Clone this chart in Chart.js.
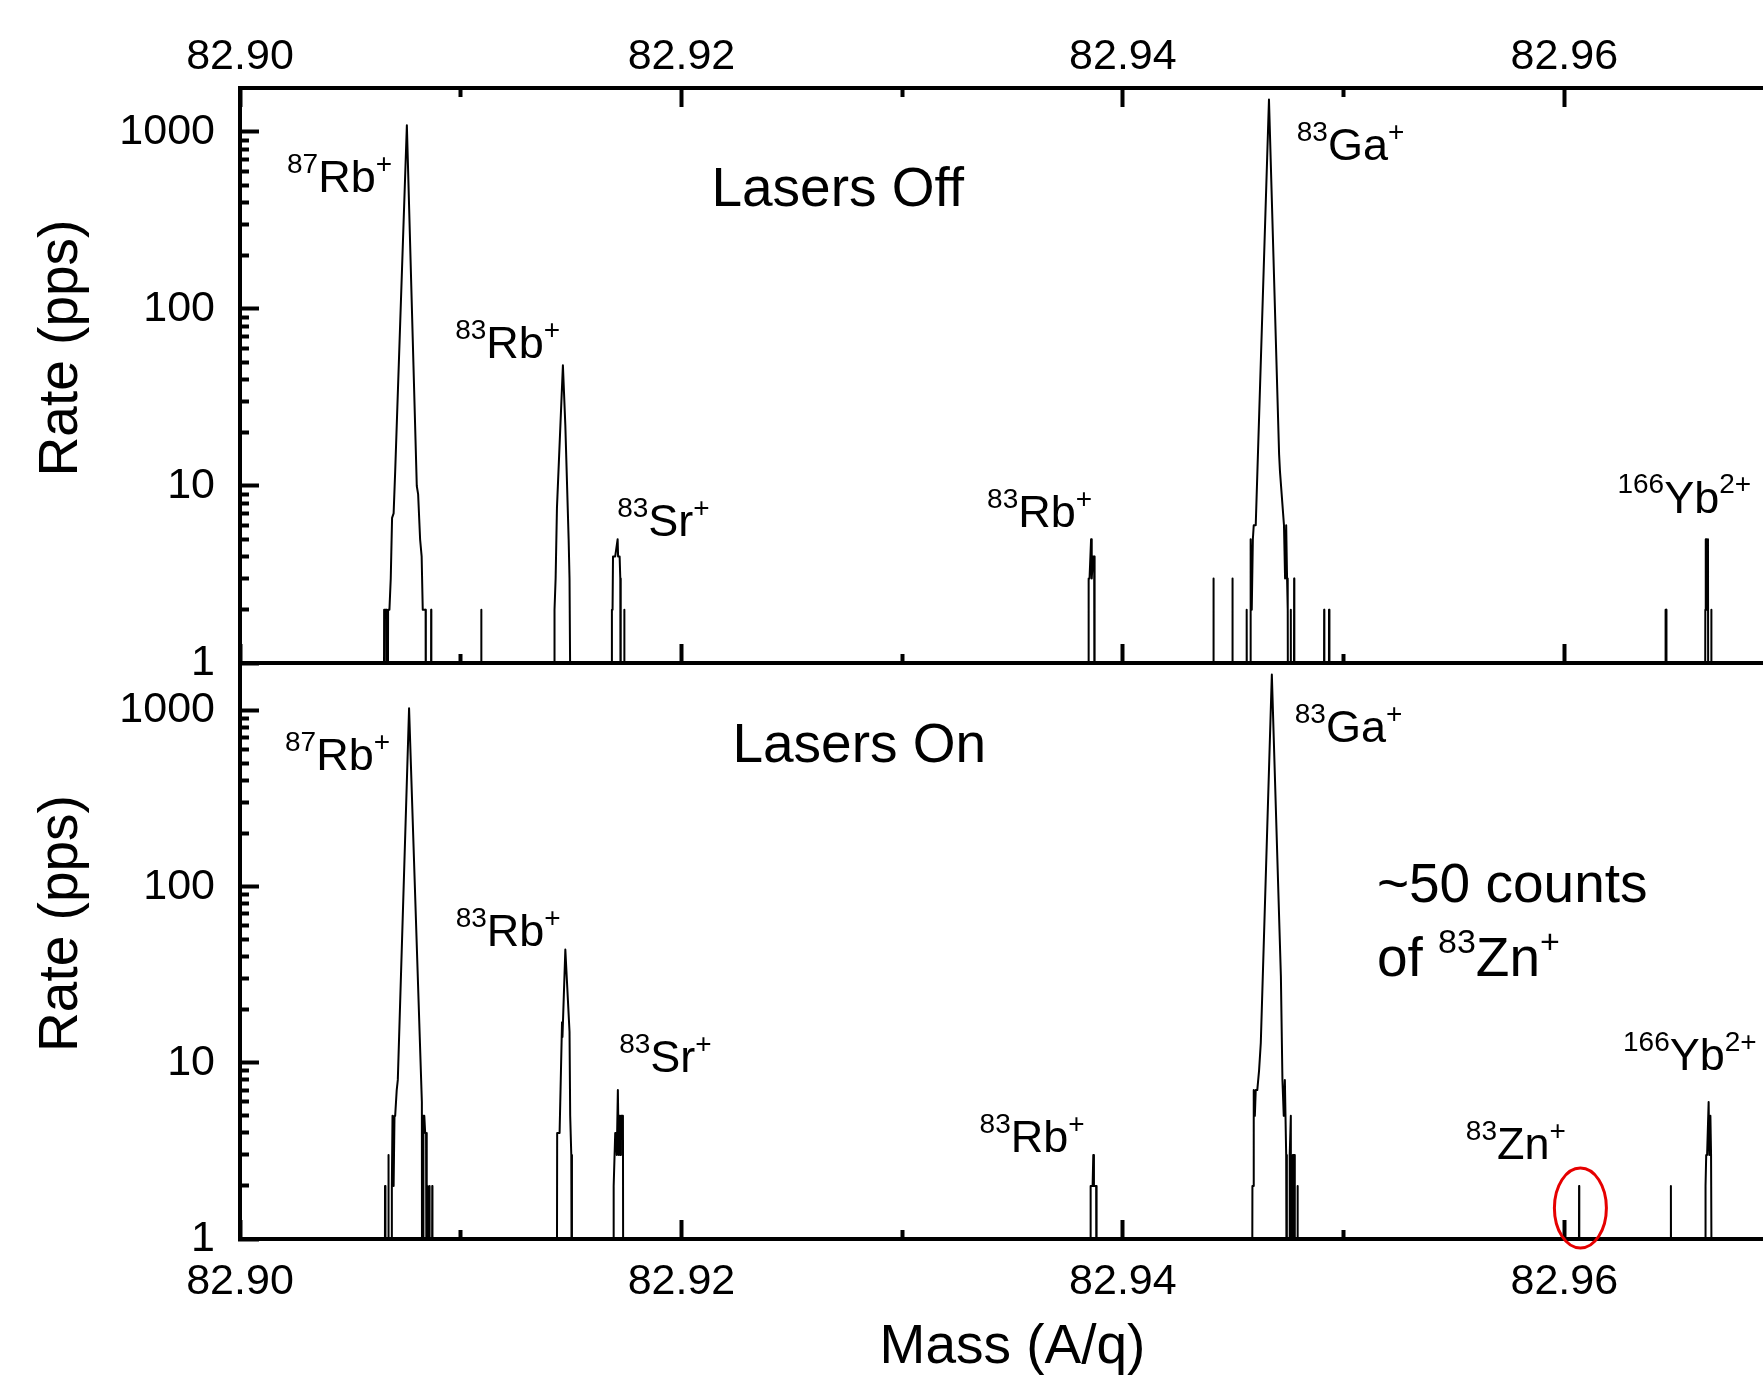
<!DOCTYPE html>
<html>
<head>
<meta charset="utf-8">
<title>Lasers off / on mass spectrum</title>
<script src="https://cdn.jsdelivr.net/npm/chart.js@4.4.1/dist/chart.umd.min.js"></script>
<style>
  html, body { margin: 0; padding: 0; background: #fff; overflow: hidden; }
  #wrap { position: relative; width: 1785px; height: 1378px; }
  #wrap canvas { position: absolute; left: 0; top: 0; }
</style>
</head>
<body>
<div id="wrap">
  <canvas id="offChart" width="1785" height="1378"></canvas>
  <canvas id="onChart" width="1785" height="1378"></canvas>
</div>
<script>
// ---- data (rate 0.1 = empty bin, falls below the axis) ----
const offMass = [
  82.90000,
  82.90651, 82.90653, 82.90662, 82.90664, 82.90669, 82.90671, 82.90677, 82.90683, 82.90689, 82.90696,
  82.90703, 82.90756, 82.90801, 82.90807, 82.90816, 82.90823, 82.90828, 82.90841, 82.90842,
  82.90865, 82.90866, 82.90867,
  82.91092, 82.91093, 82.91094,
  82.91424, 82.91425, 82.91430, 82.91436, 82.91463, 82.91474, 82.91489, 82.91493, 82.91501,
  82.91684, 82.91685, 82.91688, 82.91690, 82.91700, 82.91711, 82.91713, 82.91720, 82.91723, 82.91725,
  82.91740, 82.91741, 82.91742,
  82.93843, 82.93845, 82.93849, 82.93856, 82.93859, 82.93865, 82.93870, 82.93872,
  82.94409, 82.94410, 82.94412,
  82.94495, 82.94496, 82.94498,
  82.94560, 82.94561, 82.94563,
  82.94577, 82.94579, 82.94584, 82.94589, 82.94593, 82.94602, 82.94662, 82.94708, 82.94712, 82.94730,
  82.94735, 82.94740, 82.94744, 82.94747, 82.94749,
  82.94759, 82.94761, 82.94762,
  82.94774, 82.94776, 82.94777,
  82.94910, 82.94912, 82.94913,
  82.94933, 82.94934, 82.94936,
  82.96457, 82.96459, 82.96462, 82.96463,
  82.96637, 82.96639, 82.96641, 82.96645, 82.96647, 82.96651, 82.96653,
  82.96665, 82.96666, 82.96667,
  82.97000
];
const offRate = [
  0.1,
  0.1, 2, 2, 0.1, 0.1, 2, 2, 3, 6.6, 7,
  12, 1090, 10, 9, 5, 4, 2, 2, 0.1,
  0.1, 2, 0.1,
  0.1, 2, 0.1,
  0.1, 2, 3, 7.5, 48, 22, 5, 3, 0.1,
  0.1, 2, 2, 4, 4, 5, 4, 4, 3, 0.1,
  0.1, 2, 0.1,
  0.1, 3, 3, 5, 3, 4, 4, 0.1,
  0.1, 3, 0.1,
  0.1, 3, 0.1,
  0.1, 2, 0.1,
  0.1, 5, 2, 5, 6, 6, 1525, 15, 12, 6,
  3, 6, 3, 2, 0.1,
  0.1, 2, 0.1,
  0.1, 3, 0.1,
  0.1, 2, 0.1,
  0.1, 2, 0.1,
  0.1, 2, 2, 0.1,
  0.1, 2, 5, 5, 2, 5, 0.1,
  0.1, 2, 0.1,
  0.1
];

const onMass = [
  82.90000,
  82.90656, 82.90657, 82.90659,
  82.90671, 82.90672, 82.90674,
  82.90686, 82.90688, 82.90691, 82.90696, 82.90700, 82.90703, 82.90710, 82.90715, 82.90766, 82.90824, 82.90825,
  82.90830, 82.90831, 82.90835, 82.90839, 82.90843, 82.90846,
  82.90848, 82.90849, 82.90851,
  82.90857, 82.90858, 82.90860,
  82.90869, 82.90871, 82.90872,
  82.91435, 82.91437, 82.91448, 82.91459, 82.91461, 82.91474, 82.91493, 82.91496, 82.91501, 82.91504,
  82.91691, 82.91693, 82.91700, 82.91705, 82.91707, 82.91712, 82.91716, 82.91720, 82.91723, 82.91726, 82.91735, 82.91737,
  82.93852, 82.93854, 82.93863, 82.93866, 82.93869, 82.93879, 82.93881,
  82.94585, 82.94587, 82.94591, 82.94593, 82.94598, 82.94602, 82.94609, 82.94617, 82.94625, 82.94675,
  82.94716, 82.94723, 82.94729, 82.94734, 82.94740, 82.94743,
  82.94754, 82.94756, 82.94761, 82.94763,
  82.94768, 82.94770, 82.94777, 82.94779,
  82.94789, 82.94791, 82.94793,
  82.96065, 82.96067, 82.96068,
  82.96482, 82.96483, 82.96485,
  82.96638, 82.96640, 82.96643, 82.96647, 82.96654, 82.96657, 82.96662, 82.96665, 82.96670,
  82.97000
];
const onRate = [
  0.1,
  0.1, 2, 0.1,
  0.1, 3, 0.1,
  0.1, 2, 5, 2, 5, 5, 7, 8, 1030, 6, 0.1,
  0.1, 5, 5, 4, 4, 0.1,
  0.1, 2, 0.1,
  0.1, 2, 0.1,
  0.1, 2, 0.1,
  0.1, 4, 4, 17, 14, 44, 15, 5, 3, 0.1,
  0.1, 2, 4, 4, 3, 7, 3, 5, 3, 5, 5, 0.1,
  0.1, 2, 2, 3, 2, 2, 0.1,
  0.1, 2, 2, 7, 5, 7, 7, 9, 13, 1600,
  31, 8, 5, 8, 3, 0.1,
  0.1, 3, 5, 0.1,
  0.1, 3, 3, 0.1,
  0.1, 2, 0.1,
  0.1, 2, 0.1,
  0.1, 2, 0.1,
  0.1, 2, 3, 3, 6, 3, 5, 3, 0.1,
  0.1
];

const xMajorTicks = [82.90, 82.92, 82.94, 82.96];
const xMinorTicks = [82.91, 82.93, 82.95];
const yMajorTicks = [1, 10, 100, 1000];
const yMinorTicks = [2, 3, 4, 5, 6, 7, 8, 9, 20, 30, 40, 50, 60, 70, 80, 90, 200, 300, 400, 500, 600, 700, 800, 900];

// peak labels: {..} is a superscript
const offLabels = [
  { text: '{87}Rb{+}', mass: 82.90213, rate: 457 },
  { text: '{83}Rb{+}', mass: 82.90975, rate: 52.7 },
  { text: '{83}Sr{+}', mass: 82.91709, rate: 5.21 },
  { text: '{83}Rb{+}', mass: 82.93385, rate: 5.86 },
  { text: '{83}Ga{+}', mass: 82.94788, rate: 692 },
  { text: '{166}Yb{2+}', mass: 82.96241, rate: 7.08 },
  { text: 'Lasers Off', mass: 82.92136, rate: 380, big: true }
];
const onLabels = [
  { text: '{87}Rb{+}', mass: 82.90204, rate: 459 },
  { text: '{83}Rb{+}', mass: 82.90977, rate: 45.9 },
  { text: '{83}Sr{+}', mass: 82.91718, rate: 8.83 },
  { text: '{83}Rb{+}', mass: 82.93351, rate: 3.10 },
  { text: '{83}Ga{+}', mass: 82.94779, rate: 662 },
  { text: '{83}Zn{+}', mass: 82.95554, rate: 2.83 },
  { text: '{166}Yb{2+}', mass: 82.96266, rate: 9.07 },
  { text: 'Lasers On', mass: 82.92231, rate: 510, big: true },
  { text: '~50 counts', mass: 82.95151, rate: 82, big: true },
  { text: 'of {83}Zn{+}', mass: 82.95151, rate: 31, big: true }
];
const znRing = { mass: 82.96073, rate: 1.5 };

// ---- drawing ----
const FONT = '"Liberation Sans", Arial, Helvetica, sans-serif';
Chart.defaults.font.family = FONT;
Chart.defaults.color = '#000';

const X_MIN = 82.90, X_MAX = 82.97;

function ticksFrom(values) {
  return s => { s.ticks = values.map(v => ({ value: v })); };
}

function markGrid(len) {
  return { drawOnChartArea: false, tickLength: -len, tickWidth: 4, tickColor: '#000' };
}

// labels with superscripts, plus the red ring around the Zn counts
const peakLabelsPlugin = {
  id: 'peakLabels',
  afterDatasetsDraw(chart, args, opts) {
    const ctx = chart.ctx;
    const xs = chart.scales.x, ys = chart.scales.y;
    ctx.save();
    ctx.fillStyle = '#000';
    ctx.textAlign = 'left';
    ctx.textBaseline = 'alphabetic';
    opts.items.forEach(item => {
      const size = item.big ? 55 : 45;
      const small = Math.round(size * 0.62);
      let px = xs.getPixelForValue(item.mass);
      const py = ys.getPixelForValue(item.rate);
      item.text.split(/(\{[^}]*\})/).filter(Boolean).forEach(part => {
        const sup = part.startsWith('{');
        const str = sup ? part.slice(1, -1) : part;
        ctx.font = (sup ? small : size) + 'px ' + FONT;
        ctx.fillText(str, px, sup ? py - size * 0.43 : py);
        px += ctx.measureText(str).width;
      });
    });
    if (opts.ring) {
      ctx.strokeStyle = '#e60000';
      ctx.lineWidth = 3;
      ctx.beginPath();
      ctx.ellipse(xs.getPixelForValue(opts.ring.mass), ys.getPixelForValue(opts.ring.rate), 26, 40, 0, 0, Math.PI * 2);
      ctx.stroke();
    }
    ctx.restore();
  }
};

function buildScales(panel) {
  const scales = {
    y: {
      type: 'logarithmic', position: 'left', weight: 1, min: 1, max: panel.yMax,
      afterBuildTicks: ticksFrom(yMajorTicks),
      afterFit: s => { s.width = 240; },
      grid: markGrid(19),
      border: { display: true, width: 4, color: '#000' },
      ticks: { padding: 44, color: '#000', font: { size: 43 }, autoSkip: false, callback: v => String(v) },
      title: {
        display: true, text: '\u2002\u2002Rate (pps)', color: '#000',
        font: { size: 55, lineHeight: 1 }, padding: { top: 34.5, bottom: 0 }
      }
    },
    yMinor: {
      type: 'logarithmic', position: 'left', weight: 0, min: 1, max: panel.yMax,
      afterBuildTicks: ticksFrom(yMinorTicks),
      afterFit: s => { s.width = 0; },
      grid: markGrid(9),
      border: { display: false },
      ticks: { display: false }
    },
    x: {
      type: 'linear', position: 'bottom', weight: 1, min: X_MIN, max: X_MAX,
      afterBuildTicks: ticksFrom(xMajorTicks),
      afterFit: s => { s.height = panel.bottomHeight; },
      grid: markGrid(19),
      border: { display: true, width: 4, color: '#000' },
      ticks: {
        display: panel.bottomLabels, padding: 36, color: '#000', font: { size: 43 },
        autoSkip: false, maxRotation: 0, callback: v => v.toFixed(2)
      },
      title: {
        display: panel.bottomLabels, text: 'Mass (A/q)', color: '#000',
        font: { size: 55, lineHeight: 1 }, padding: { top: 0, bottom: 2.5 }
      }
    },
    xMinor: {
      type: 'linear', position: 'bottom', weight: 0, min: X_MIN, max: X_MAX,
      afterBuildTicks: ticksFrom(xMinorTicks),
      afterFit: s => { s.height = 0; },
      grid: markGrid(9),
      border: { display: false },
      ticks: { display: false }
    }
  };
  if (panel.topLabels) {
    scales.xTop = {
      type: 'linear', position: 'top', weight: 1, min: X_MIN, max: X_MAX,
      afterBuildTicks: ticksFrom(xMajorTicks),
      afterFit: s => { s.height = 88; },
      grid: markGrid(19),
      border: { display: true, width: 4, color: '#000' },
      ticks: { padding: 24, color: '#000', font: { size: 43 }, autoSkip: false, maxRotation: 0, callback: v => v.toFixed(2) }
    };
    scales.xTopMinor = {
      type: 'linear', position: 'top', weight: 0, min: X_MIN, max: X_MAX,
      afterBuildTicks: ticksFrom(xMinorTicks),
      afterFit: s => { s.height = 0; },
      grid: markGrid(9),
      border: { display: false },
      ticks: { display: false }
    };
  }
  return scales;
}

function makePanel(canvasId, mass, rate, panel) {
  const ctx = document.getElementById(canvasId).getContext('2d');
  return new Chart(ctx, {
    type: 'line',
    data: {
      datasets: [{
        data: mass.map((m, i) => ({ x: m, y: rate[i] })),
        borderColor: '#000',
        borderWidth: 2,
        borderJoinStyle: 'round',
        pointRadius: 0,
        tension: 0,
        fill: false,
        xAxisID: 'x',
        yAxisID: 'y'
      }]
    },
    options: {
      responsive: false,
      devicePixelRatio: 1,
      animation: false,
      events: [],
      layout: { padding: panel.padding },
      plugins: {
        legend: { display: false },
        tooltip: { enabled: false },
        peakLabels: { items: panel.labels, ring: panel.ring }
      },
      scales: buildScales(panel)
    },
    plugins: [peakLabelsPlugin]
  });
}

// upper panel: lasers off
makePanel('offChart', offMass, offRate, {
  yMax: 1770, topLabels: true, bottomLabels: false, bottomHeight: 0,
  padding: { top: 0, left: 0, right: 0, bottom: 715 },
  labels: offLabels, ring: null
});

// lower panel: lasers on
makePanel('onChart', onMass, onRate, {
  yMax: 1860, topLabels: false, bottomLabels: true, bottomHeight: 139,
  padding: { top: 663, left: 0, right: 0, bottom: 0 },
  labels: onLabels, ring: znRing
});
</script>
</body>
</html>
